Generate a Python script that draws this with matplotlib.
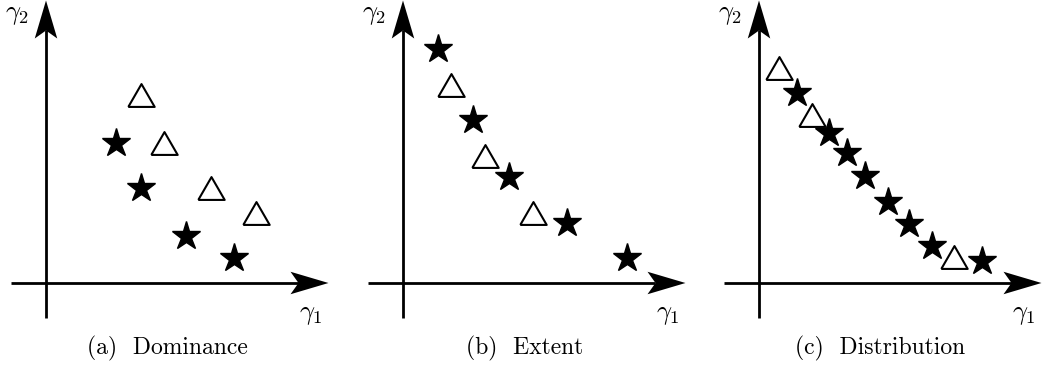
import matplotlib
matplotlib.use("Agg")
import matplotlib.pyplot as plt
from matplotlib.patches import Polygon

plt.rcParams['mathtext.fontset'] = 'cm'

# (gamma1, gamma2) positions, axis origin at (0, 0)
dom_stars_x = [2.8, 3.8, 5.6, 7.5]
dom_stars_y = [5.6, 3.8, 1.9, 1.0]
dom_tri_x = [3.8, 4.7, 6.6, 8.4]
dom_tri_y = [7.5, 5.6, 3.8, 2.8]

ext_stars_x = [1.4, 2.8, 4.25, 6.55, 8.95]
ext_stars_y = [9.35, 6.5, 4.25, 2.4, 1.0]
ext_tri_x = [1.9, 3.3, 5.2]
ext_tri_y = [7.9, 5.1, 2.8]

dist_stars_x = [1.5, 2.8, 3.5, 4.25, 5.15, 6.0, 6.9, 8.9]
dist_stars_y = [7.6, 6.0, 5.2, 4.3, 3.25, 2.35, 1.5, 0.9]
dist_tri_x = [0.8, 2.1, 7.8]
dist_tri_y = [8.6, 6.7, 1.05]

captions = ['(a)  Dominance', '(b)  Extent', '(c)  Distribution']

W, H = 1048, 367
S = 25.0  # pixels per data unit
origin_y = 283
panels = [(0, 349, 46), (349, 699, 403), (699, 1048, 759)]

# equilateral triangle marker
tri = [(-1, -0.866), (1, -0.866), (0, 0.866), (-1, -0.866)]


def draw_arrow_axes(ax, lo=-1.4, hi=11.3):
    L, hw, notch = 1.52, 0.45, 1.2
    ax.plot([lo, hi - notch], [0, 0], color='black', lw=2, solid_capstyle='butt')
    ax.plot([0, 0], [lo, hi - notch], color='black', lw=2, solid_capstyle='butt')
    head_x = [(hi, 0), (hi - L, hw), (hi - notch, 0), (hi - L, -hw)]
    head_y = [(0, hi), (hw, hi - L), (0, hi - notch), (-hw, hi - L)]
    ax.add_patch(Polygon(head_x, closed=True, color='black', lw=0))
    ax.add_patch(Polygon(head_y, closed=True, color='black', lw=0))


fig = plt.figure(figsize=(W / 100, H / 100), dpi=100)

data = [
    (dom_stars_x, dom_stars_y, dom_tri_x, dom_tri_y),
    (ext_stars_x, ext_stars_y, ext_tri_x, ext_tri_y),
    (dist_stars_x, dist_stars_y, dist_tri_x, dist_tri_y),
]

for (left, right, ox), (sx, sy, tx, ty), cap in zip(panels, data, captions):
    ax = fig.add_axes([left / W, 0, (right - left) / W, 1])
    ax.set_xlim(-(ox - left) / S, (right - ox) / S)
    ax.set_ylim(-(H - origin_y) / S, origin_y / S)
    ax.axis('off')

    draw_arrow_axes(ax)
    ax.plot(sx, sy, linestyle='none', marker='*', ms=21, color='black')
    ax.plot(tx, ty, linestyle='none', marker=tri, ms=19,
            markerfacecolor='white', markeredgecolor='black', markeredgewidth=1.5)

    ax.text(-1.16, 10.75, r'$\gamma_2$', fontsize=19, ha='center', va='center')
    ax.text(10.6, -1.24, r'$\gamma_1$', fontsize=19, ha='center', va='center')
    ax.text(4.85, -2.6, cap, fontsize=17, family='cmr10', ha='center', va='center')

fig.savefig('out.png', dpi=100)
